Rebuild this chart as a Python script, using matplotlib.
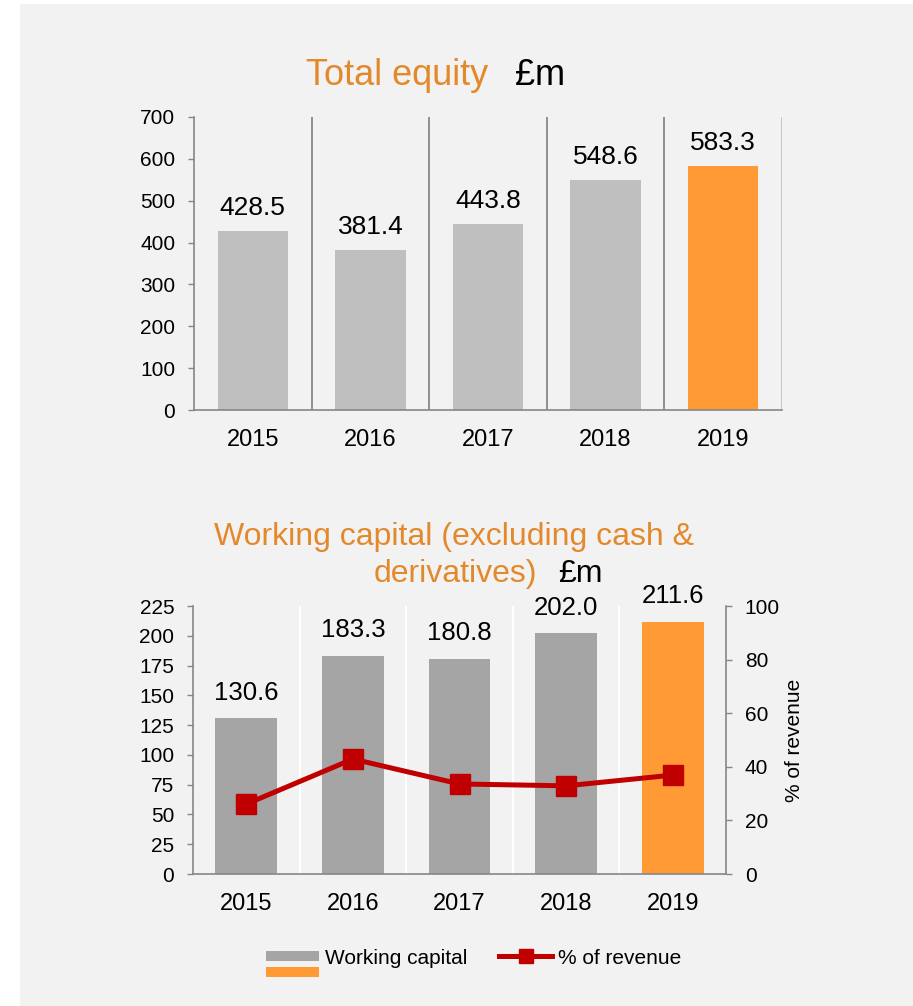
import matplotlib.pyplot as plt
from matplotlib.patches import Rectangle, Patch
from matplotlib.lines import Line2D
from matplotlib.legend_handler import HandlerBase

plt.rcParams['font.family'] = ['Liberation Sans', 'DejaVu Sans']

# data
years = ['2015', '2016', '2017', '2018', '2019']
equity = [428.5, 381.4, 443.8, 548.6, 583.3]
working_capital = [130.6, 183.3, 180.8, 202.0, 211.6]
pct_revenue = [26.1, 42.9, 33.6, 32.9, 36.9]

ORANGE = '#ff9a35'
TITLE_ORANGE = '#e3892b'
AXIS_GREY = '#868686'
RED = '#c00000'


class StackedPatches(HandlerBase):
    # grey patch next to the text, orange one just below it
    def create_artists(self, legend, orig_handle, xdescent, ydescent,
                       width, height, fontsize, trans):
        ph, gap = 7.2, 4.3
        yc = height / 2 - ydescent
        top = Rectangle((-xdescent, yc - ph / 2), width, ph,
                        facecolor=orig_handle[0].get_facecolor(), lw=0, transform=trans)
        bot = Rectangle((-xdescent, yc - ph / 2 - gap - ph), width, ph,
                        facecolor=orig_handle[1].get_facecolor(), lw=0, transform=trans)
        return [top, bot]


fig = plt.figure(figsize=(9.13, 10.06), dpi=100, facecolor='white')
fig.patches.append(Rectangle((20 / 913, 0), 1, 1 - 4 / 1006, transform=fig.transFigure,
                             facecolor='#f2f2f2', edgecolor='none', zorder=-10))

x = range(len(years))

# ---- top chart: total equity ----
ax1 = fig.add_axes([194 / 913, 1 - 410 / 1006, 588 / 913, 293 / 1006])
ax1.set_facecolor('none')
cols1 = ['#bfbfbf'] * 4 + [ORANGE]
bars1 = ax1.bar(x, equity, width=0.6, color=cols1, zorder=2)
for b, v in zip(bars1, equity):
    ax1.annotate(f'{v:.1f}', (b.get_x() + b.get_width() / 2, v), xytext=(0, 11.5),
                 textcoords='offset points', ha='center', va='baseline', fontsize=19)
for s in [0.5, 1.5, 2.5, 3.5]:
    ax1.axvline(s, color='#7f7f7f', lw=1.2, zorder=1)
ax1.axvline(4.5, color='#bfbfbf', lw=1.2, zorder=1)
ax1.set_xlim(-0.5, 4.5)
ax1.set_ylim(0, 700)
ax1.set_yticks(range(0, 701, 100))
ax1.set_xticks(list(x))
ax1.set_xticklabels(years)
ax1.tick_params(axis='x', length=0, pad=13.5, labelsize=17)
ax1.tick_params(axis='y', length=4.5, width=1, color=AXIS_GREY, pad=9, labelsize=15)
for sp in ['top', 'right']:
    ax1.spines[sp].set_visible(False)
for sp in ['left', 'bottom']:
    ax1.spines[sp].set_color(AXIS_GREY)
    ax1.spines[sp].set_linewidth(1.2)

fig.text(306 / 913, 1 - 85 / 1006, 'Total equity', color=TITLE_ORANGE, fontsize=26,
         ha='left', va='baseline')
fig.text(515 / 913, 1 - 85 / 1006, '£m', color='black', fontsize=26,
         ha='left', va='baseline')

# ---- bottom chart: working capital ----
ax2 = fig.add_axes([193 / 913, 1 - 874 / 1006, 533 / 913, 268 / 1006])
ax2.set_facecolor('none')
cols2 = ['#a5a5a5'] * 4 + [ORANGE]
bars2 = ax2.bar(x, working_capital, width=0.58, color=cols2, zorder=2)
for b, v in zip(bars2, working_capital):
    ax2.annotate(f'{v:.1f}', (b.get_x() + b.get_width() / 2, v), xytext=(0, 13.5),
                 textcoords='offset points', ha='center', va='baseline', fontsize=18.5)
for s in [0.5, 1.5, 2.5, 3.5]:
    ax2.axvline(s, color='white', lw=1.5, zorder=1)
ax2.set_xlim(-0.5, 4.5)
ax2.set_ylim(0, 225)
ax2.set_yticks(range(0, 226, 25))
ax2.set_xticks(list(x))
ax2.set_xticklabels(years)
ax2.tick_params(axis='x', length=0, pad=14, labelsize=17)
ax2.tick_params(axis='y', length=4.5, width=1, color=AXIS_GREY, pad=9, labelsize=15)
for sp in ['top', 'right']:
    ax2.spines[sp].set_visible(False)
for sp in ['left', 'bottom']:
    ax2.spines[sp].set_color(AXIS_GREY)
    ax2.spines[sp].set_linewidth(1.2)

ax3 = ax2.twinx()
ax3.plot(list(x), pct_revenue, color=RED, lw=3.6, marker='s', markersize=14, zorder=5)
ax3.set_ylim(0, 100)
ax3.set_yticks(range(0, 101, 20))
ax3.tick_params(axis='y', length=4.5, width=1, color=AXIS_GREY, pad=9, labelsize=15)
ax3.set_ylabel('% of revenue', fontsize=15, labelpad=4)
for sp in ['top', 'left', 'bottom']:
    ax3.spines[sp].set_visible(False)
ax3.spines['right'].set_color(AXIS_GREY)
ax3.spines['right'].set_linewidth(1.2)

fig.text(454 / 913, 1 - 545 / 1006, 'Working capital (excluding cash &', color=TITLE_ORANGE,
         fontsize=23, ha='center', va='baseline')
fig.text(374 / 913, 1 - 582 / 1006, 'derivatives)', color=TITLE_ORANGE, fontsize=23,
         ha='left', va='baseline')
fig.text(558 / 913, 1 - 582 / 1006, '£m', color='black', fontsize=23,
         ha='left', va='baseline')

# legend
wc_handle = (Patch(facecolor='#a5a5a5'), Patch(facecolor=ORANGE))
line_handle = Line2D([], [], color=RED, lw=3.6, marker='s', markersize=10)
fig.legend([wc_handle, line_handle], ['Working capital', '% of revenue'],
           handler_map={tuple: StackedPatches()}, loc='center left',
           bbox_to_anchor=(266 / 913, 1 - 958 / 1006), borderaxespad=0, borderpad=0,
           frameon=False, ncol=2, fontsize=15, handlelength=2.55, handletextpad=0.3,
           columnspacing=1.5)

fig.savefig('out.png', dpi=100)
